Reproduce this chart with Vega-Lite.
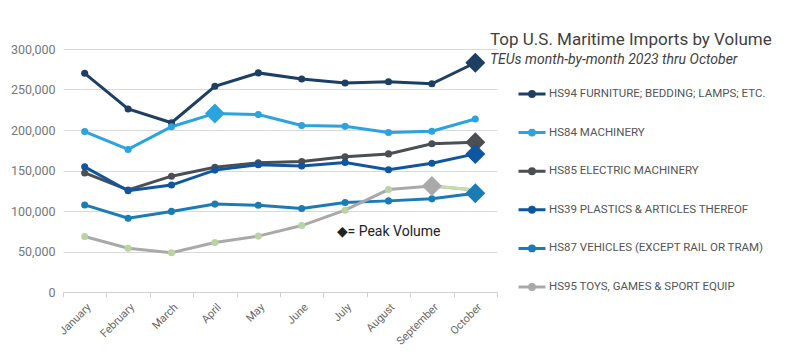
{
  "$schema": "https://vega.github.io/schema/vega-lite/v6.json",
  "width": 434,
  "height": 243,
  "autosize": {"type": "none"},
  "padding": {"left": 63, "top": 49, "right": 303, "bottom": 62},
  "background": "white",
  "config": {
    "font": "Roboto",
    "view": {"stroke": null},
    "axis": {"labelFont": "Roboto", "titleFont": "Roboto"}
  },
  "title": {
    "text": "Top U.S. Maritime Imports by Volume",
    "subtitle": "TEUs month-by-month 2023 thru October",
    "anchor": "start",
    "frame": "group",
    "dx": 427,
    "offset": -25,
    "font": "Roboto",
    "fontSize": 17,
    "fontWeight": "normal",
    "color": "#3f3f3f",
    "subtitleFont": "Roboto",
    "subtitleFontSize": 14,
    "subtitleFontStyle": "italic",
    "subtitleColor": "#3f3f3f",
    "subtitlePadding": 4
  },
  "data": {
    "values": [
      {"month": "January", "series": "HS94 FURNITURE; BEDDING; LAMPS; ETC.", "value": 270000},
      {"month": "February", "series": "HS94 FURNITURE; BEDDING; LAMPS; ETC.", "value": 226000},
      {"month": "March", "series": "HS94 FURNITURE; BEDDING; LAMPS; ETC.", "value": 209000},
      {"month": "April", "series": "HS94 FURNITURE; BEDDING; LAMPS; ETC.", "value": 254000},
      {"month": "May", "series": "HS94 FURNITURE; BEDDING; LAMPS; ETC.", "value": 270500},
      {"month": "June", "series": "HS94 FURNITURE; BEDDING; LAMPS; ETC.", "value": 263000},
      {"month": "July", "series": "HS94 FURNITURE; BEDDING; LAMPS; ETC.", "value": 258000},
      {"month": "August", "series": "HS94 FURNITURE; BEDDING; LAMPS; ETC.", "value": 259500},
      {"month": "September", "series": "HS94 FURNITURE; BEDDING; LAMPS; ETC.", "value": 257000},
      {"month": "October", "series": "HS94 FURNITURE; BEDDING; LAMPS; ETC.", "value": 283000},
      {"month": "January", "series": "HS84 MACHINERY", "value": 198000},
      {"month": "February", "series": "HS84 MACHINERY", "value": 176000},
      {"month": "March", "series": "HS84 MACHINERY", "value": 204000},
      {"month": "April", "series": "HS84 MACHINERY", "value": 220500},
      {"month": "May", "series": "HS84 MACHINERY", "value": 219000},
      {"month": "June", "series": "HS84 MACHINERY", "value": 205500},
      {"month": "July", "series": "HS84 MACHINERY", "value": 204500},
      {"month": "August", "series": "HS84 MACHINERY", "value": 197000},
      {"month": "September", "series": "HS84 MACHINERY", "value": 198500},
      {"month": "October", "series": "HS84 MACHINERY", "value": 213500},
      {"month": "January", "series": "HS85 ELECTRIC MACHINERY", "value": 147000},
      {"month": "February", "series": "HS85 ELECTRIC MACHINERY", "value": 126000},
      {"month": "March", "series": "HS85 ELECTRIC MACHINERY", "value": 143000},
      {"month": "April", "series": "HS85 ELECTRIC MACHINERY", "value": 154000},
      {"month": "May", "series": "HS85 ELECTRIC MACHINERY", "value": 159500},
      {"month": "June", "series": "HS85 ELECTRIC MACHINERY", "value": 161000},
      {"month": "July", "series": "HS85 ELECTRIC MACHINERY", "value": 167000},
      {"month": "August", "series": "HS85 ELECTRIC MACHINERY", "value": 170500},
      {"month": "September", "series": "HS85 ELECTRIC MACHINERY", "value": 183000},
      {"month": "October", "series": "HS85 ELECTRIC MACHINERY", "value": 185000},
      {"month": "January", "series": "HS39 PLASTICS & ARTICLES THEREOF", "value": 154500},
      {"month": "February", "series": "HS39 PLASTICS & ARTICLES THEREOF", "value": 125000},
      {"month": "March", "series": "HS39 PLASTICS & ARTICLES THEREOF", "value": 132000},
      {"month": "April", "series": "HS39 PLASTICS & ARTICLES THEREOF", "value": 150500},
      {"month": "May", "series": "HS39 PLASTICS & ARTICLES THEREOF", "value": 157000},
      {"month": "June", "series": "HS39 PLASTICS & ARTICLES THEREOF", "value": 155500},
      {"month": "July", "series": "HS39 PLASTICS & ARTICLES THEREOF", "value": 160000},
      {"month": "August", "series": "HS39 PLASTICS & ARTICLES THEREOF", "value": 151000},
      {"month": "September", "series": "HS39 PLASTICS & ARTICLES THEREOF", "value": 159000},
      {"month": "October", "series": "HS39 PLASTICS & ARTICLES THEREOF", "value": 170500},
      {"month": "January", "series": "HS87 VEHICLES (EXCEPT RAIL OR TRAM)", "value": 107500},
      {"month": "February", "series": "HS87 VEHICLES (EXCEPT RAIL OR TRAM)", "value": 91000},
      {"month": "March", "series": "HS87 VEHICLES (EXCEPT RAIL OR TRAM)", "value": 99500},
      {"month": "April", "series": "HS87 VEHICLES (EXCEPT RAIL OR TRAM)", "value": 108500},
      {"month": "May", "series": "HS87 VEHICLES (EXCEPT RAIL OR TRAM)", "value": 107000},
      {"month": "June", "series": "HS87 VEHICLES (EXCEPT RAIL OR TRAM)", "value": 103000},
      {"month": "July", "series": "HS87 VEHICLES (EXCEPT RAIL OR TRAM)", "value": 110500},
      {"month": "August", "series": "HS87 VEHICLES (EXCEPT RAIL OR TRAM)", "value": 112500},
      {"month": "September", "series": "HS87 VEHICLES (EXCEPT RAIL OR TRAM)", "value": 115000},
      {"month": "October", "series": "HS87 VEHICLES (EXCEPT RAIL OR TRAM)", "value": 122000},
      {"month": "January", "series": "HS95 TOYS, GAMES & SPORT EQUIP", "value": 68500},
      {"month": "February", "series": "HS95 TOYS, GAMES & SPORT EQUIP", "value": 54000},
      {"month": "March", "series": "HS95 TOYS, GAMES & SPORT EQUIP", "value": 48500},
      {"month": "April", "series": "HS95 TOYS, GAMES & SPORT EQUIP", "value": 61000},
      {"month": "May", "series": "HS95 TOYS, GAMES & SPORT EQUIP", "value": 69000},
      {"month": "June", "series": "HS95 TOYS, GAMES & SPORT EQUIP", "value": 82000},
      {"month": "July", "series": "HS95 TOYS, GAMES & SPORT EQUIP", "value": 101000},
      {"month": "August", "series": "HS95 TOYS, GAMES & SPORT EQUIP", "value": 126500},
      {"month": "September", "series": "HS95 TOYS, GAMES & SPORT EQUIP", "value": 131000},
      {"month": "October", "series": "HS95 TOYS, GAMES & SPORT EQUIP", "value": 126000}
    ]
  },
  "encoding": {
    "x": {
      "field": "month",
      "type": "ordinal",
      "bandPosition": 0.5,
      "sort": ["January", "February", "March", "April", "May", "June", "July", "August", "September", "October"],
      "scale": {"type": "band", "paddingInner": 0, "paddingOuter": 0},
      "axis": {
        "title": null,
        "labelAngle": -45,
        "labelAlign": "right",
        "labelBaseline": "top",
        "labelFontSize": 11,
        "labelColor": "#666666",
        "labelPadding": 4,
        "domainColor": "#d0d0d0",
        "tickColor": "#d0d0d0",
        "tickBand": "extent",
        "tickSize": 5,
        "grid": false
      }
    },
    "y": {
      "field": "value",
      "type": "quantitative",
      "scale": {"domain": [0, 300000], "nice": false},
      "axis": {
        "title": null,
        "values": [0, 50000, 100000, 150000, 200000, 250000, 300000],
        "format": ",.0f",
        "labelFontSize": 12.5,
        "labelColor": "#777777",
        "labelPadding": 8,
        "domain": false,
        "ticks": false,
        "gridColor": "#d9d9d9",
        "gridWidth": 1
      }
    }
  },
  "layer": [
    {
      "mark": {"type": "line", "strokeWidth": 3},
      "encoding": {
        "color": {
          "field": "series",
          "type": "nominal",
          "scale": {
            "domain": ["HS94 FURNITURE; BEDDING; LAMPS; ETC.", "HS84 MACHINERY", "HS85 ELECTRIC MACHINERY", "HS39 PLASTICS & ARTICLES THEREOF", "HS87 VEHICLES (EXCEPT RAIL OR TRAM)", "HS95 TOYS, GAMES & SPORT EQUIP"],
            "range": ["#1c3f63", "#2aa3de", "#4b4f54", "#0f56a0", "#1b7bb5", "#a9a9a9"]
          },
          "legend": {
            "orient": "none",
            "legendX": 454,
            "legendY": 30,
            "padding": 0,
            "title": null,
            "symbolType": "M-1,0L1,0M-0.18,0a0.18,0.18 0 1,0 0.36,0a0.18,0.18 0 1,0 -0.36,0",
            "symbolSize": 729,
            "symbolStrokeWidth": 3,
            "labelFont": "Roboto",
            "labelFontSize": 11.5,
            "labelColor": "#555555",
            "labelOffset": 2,
            "labelLimit": 300,
            "rowPadding": 14.6,
            "encode": {
              "symbols": {"update": {"fill": {"scale": "fill", "field": "value"}}}
            }
          }
        }
      }
    },
    {
      "transform": [
        {"filter": "datum.series === 'HS95 TOYS, GAMES & SPORT EQUIP' && (datum.month === 'September' || datum.month === 'October')"}
      ],
      "mark": {"type": "line", "strokeWidth": 3, "color": "#c6dcac"}
    },
    {
      "mark": {"type": "point", "filled": true, "size": 50, "opacity": 1, "shape": "circle"},
      "encoding": {
        "fill": {
          "field": "series",
          "type": "nominal",
          "scale": {
            "domain": ["HS94 FURNITURE; BEDDING; LAMPS; ETC.", "HS84 MACHINERY", "HS85 ELECTRIC MACHINERY", "HS39 PLASTICS & ARTICLES THEREOF", "HS87 VEHICLES (EXCEPT RAIL OR TRAM)", "HS95 TOYS, GAMES & SPORT EQUIP"],
            "range": ["#1c3f63", "#2aa3de", "#4b4f54", "#0f56a0", "#1b7bb5", "#b9d3a2"]
          },
          "legend": null
        }
      }
    },
    {
      "transform": [
        {"joinaggregate": [{"op": "max", "field": "value", "as": "peak"}], "groupby": ["series"]},
        {"filter": "datum.value === datum.peak"}
      ],
      "mark": {"type": "point", "filled": true, "size": 400, "opacity": 1, "shape": "diamond"},
      "encoding": {
        "color": {"field": "series", "type": "nominal"}
      }
    },
    {
      "transform": [
        {"filter": "datum.series === 'HS94 FURNITURE; BEDDING; LAMPS; ETC.' && datum.month === 'August'"}
      ],
      "mark": {"type": "text", "text": "◆= Peak Volume", "fontSize": 14, "color": "#222222", "align": "center", "baseline": "middle", "font": "Roboto"},
      "encoding": {
        "x": {"field": "month", "type": "ordinal", "bandPosition": 0.5},
        "y": {"datum": 74000}
      }
    }
  ]
}
